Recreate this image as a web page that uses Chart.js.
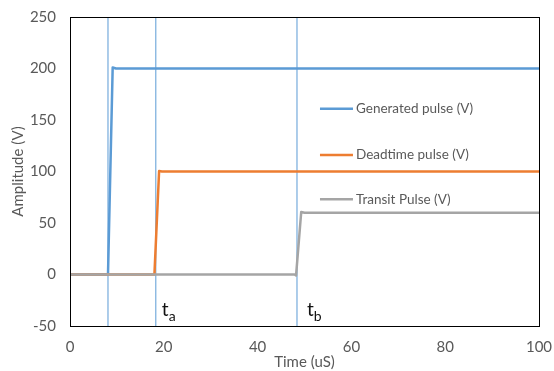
<!DOCTYPE html>
<html>
<head>
<meta charset="utf-8">
<script src="https://cdn.jsdelivr.net/npm/chart.js@4"></script>
<style>
  html, body { margin: 0; padding: 0; background: #fff; }
  #wrap { width: 554px; height: 371px; }
</style>
</head>
<body>
<div id="wrap"><canvas id="chart"></canvas></div>
<script>
// --- Data ---
const genTime = [0, 8.1, 9.1, 9.8, 100];
const genVolts = [0, 0, 201, 200, 200];

const deadTime = [0, 18.0, 19.0, 19.6, 100];
const deadVolts = [0, 0, 100.5, 100, 100];

const transitTime = [0, 47.9, 48.2, 49.3, 50.0, 100];
const transitVolts = [0, 0, -1, 60.7, 60, 60];

const markerTimes = [8.1, 18.3, 48.4];
const markerNames = [null, 'a', 'b'];

const xTicks = [0, 20, 40, 60, 80, 100];
const yTicks = [-50, 0, 50, 100, 150, 200, 250];

const BLUE = '#5B9BD5';
const ORANGE = '#ED7D31';
const GRAY = '#A5A5A5';
const TEXT = '#595959';
const FONT = 'Lato, "Liberation Sans", sans-serif';

function pts(xs, ys) {
    return xs.map((x, i) => ({ x: x, y: ys[i] }));
}

// vertical reference lines, one dataset each
const markerSets = markerTimes.map(t => ({
    label: '',
    data: [{ x: t, y: yTicks[0] }, { x: t, y: yTicks[yTicks.length - 1] }],
    borderColor: BLUE,
    borderWidth: 1,
    pointRadius: 0,
    order: 5
}));

const seriesSets = [
    { label: 'Generated pulse (V)', data: pts(genTime, genVolts), borderColor: BLUE, order: 2 },
    { label: 'Deadtime pulse (V)', data: pts(deadTime, deadVolts), borderColor: ORANGE, order: 1 },
    { label: 'Transit Pulse (V)', data: pts(transitTime, transitVolts), borderColor: GRAY, order: 0 }
].map(d => Object.assign(d, { borderWidth: 2.5, pointRadius: 0, tension: 0, borderJoinStyle: 'round' }));

// box around the plot area
const frame = {
    id: 'frame',
    afterDraw(chart) {
        const a = chart.chartArea, ctx = chart.ctx;
        ctx.save();
        ctx.strokeStyle = '#000';
        ctx.lineWidth = 1;
        ctx.strokeRect(Math.round(a.left) + 0.5, Math.round(a.top) + 0.5,
            Math.round(a.right - a.left), Math.round(a.bottom - a.top));
        ctx.restore();
    }
};

// legend placed inside the plot, excel style
const innerLegend = {
    id: 'innerLegend',
    afterDatasetsDraw(chart) {
        const ctx = chart.ctx;
        const xs = chart.scales.x, ys = chart.scales.y;
        const x0 = xs.getPixelForValue(53.3);
        const rows = [161, 116, 73];
        ctx.save();
        ctx.font = '13.5px ' + FONT;
        ctx.textBaseline = 'middle';
        seriesSets.forEach((s, i) => {
            const y = ys.getPixelForValue(rows[i]);
            ctx.strokeStyle = s.borderColor;
            ctx.lineWidth = 2.5;
            ctx.beginPath();
            ctx.moveTo(x0, y);
            ctx.lineTo(x0 + 33, y);
            ctx.stroke();
            ctx.fillStyle = TEXT;
            ctx.fillText(s.label, x0 + 36, y);
        });
        ctx.restore();
    }
};

// t_a / t_b labels next to the marker lines
const markerLabels = {
    id: 'markerLabels',
    afterDatasetsDraw(chart) {
        const ctx = chart.ctx;
        const xs = chart.scales.x, ys = chart.scales.y;
        const gaps = [0, 6, 10];
        ctx.save();
        ctx.fillStyle = '#111';
        ctx.textBaseline = 'alphabetic';
        markerTimes.forEach((t, i) => {
            if (!markerNames[i]) return;
            const x = xs.getPixelForValue(t) + gaps[i];
            const y = ys.getPixelForValue(-40.5);
            ctx.font = '19px ' + FONT;
            ctx.fillText('t', x, y);
            const w = ctx.measureText('t').width;
            ctx.font = '14px ' + FONT;
            ctx.fillText(markerNames[i], x + w, y + 5);
        });
        ctx.restore();
    }
};

new Chart(document.getElementById('chart'), {
    type: 'line',
    data: { datasets: seriesSets.concat(markerSets) },
    options: {
        responsive: true,
        maintainAspectRatio: false,
        animation: false,
        layout: { padding: { top: 17, right: 15, left: 0, bottom: 0 } },
        plugins: { legend: { display: false }, tooltip: { enabled: false } },
        scales: {
            x: {
                type: 'linear',
                min: xTicks[0],
                max: xTicks[xTicks.length - 1],
                afterBuildTicks(scale) { scale.ticks = xTicks.map(v => ({ value: v })); },
                afterFit(scale) {
                    scale.height = 45;
                    scale.paddingLeft = 0;
                    scale.paddingRight = 0;
                },
                grid: { display: false, drawTicks: false },
                border: { display: false },
                ticks: { color: TEXT, font: { family: FONT, size: 15 }, padding: 12, maxRotation: 0 },
                title: { display: true, text: 'Time (uS)', color: TEXT, font: { family: FONT, size: 15 }, padding: { top: -5, bottom: 0 } }
            },
            y: {
                min: yTicks[0],
                max: yTicks[yTicks.length - 1],
                afterBuildTicks(scale) { scale.ticks = yTicks.map(v => ({ value: v })); },
                afterFit(scale) {
                    scale.width = 70;
                    scale.paddingTop = 0;
                    scale.paddingBottom = 0;
                },
                grid: { display: false, drawTicks: false },
                border: { display: false },
                ticks: { color: TEXT, font: { family: FONT, size: 15 }, padding: 14 },
                title: { display: true, text: 'Amplitude (V)', color: TEXT, font: { family: FONT, size: 15 }, padding: { top: 9, bottom: 0 } }
            }
        }
    },
    plugins: [frame, innerLegend, markerLabels]
});
</script>
</body>
</html>
